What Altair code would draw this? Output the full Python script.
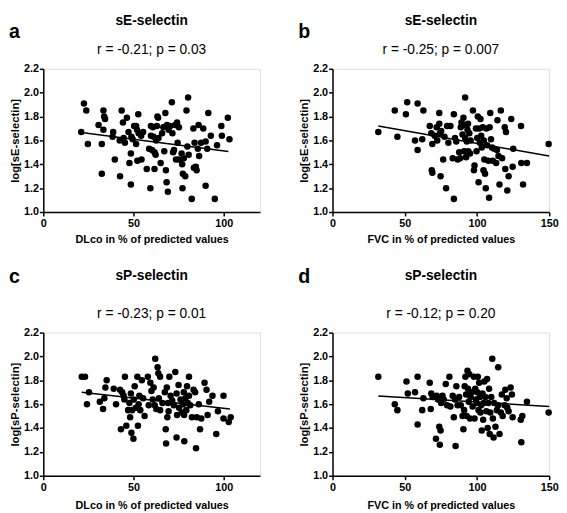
import altair as alt
import pandas as pd

FONT = "Liberation Sans"

# ---------------- data ----------------
a_x = [21, 22.5, 23.8, 24.7, 30.6, 32.4, 32.4, 33.3, 33.7, 34.2, 33.3, 38.7, 38.4, 39.6, 42.3, 42.5,
       43.4, 44.1, 44.5, 45.2, 46.3, 47.2, 47.7, 48.5, 48.5, 48.8, 49.5, 50.3, 51.4, 51.4, 51.9, 52.1,
       52.6, 52.8, 54.2, 54.4, 55.3, 57.3, 58.6, 59.3, 59.6, 59.6, 60.2, 60.7, 61.1, 61.6, 62.2, 61.6,
       62.5, 62.9, 63.2, 63.6, 63.8, 65.0, 65.8, 66.5, 67.0, 67.6, 67.9, 68.3, 68.5, 69.0, 69.4, 70.3,
       71.2, 71.5, 71.9, 72.4, 73.0, 73.5, 74.1, 74.4, 75.1, 75.1, 76.6, 76.9, 77.1, 77.3, 77.8, 78.6,
       79.3, 79.8, 80.2, 80.5, 82.2, 83.1, 83.4, 83.8, 84.5, 84.9, 85.6, 86.0, 86.3, 87.4, 88.6, 89.9,
       89.9, 90.8, 91.4, 92.8, 95.0, 96.2, 98.6, 98.9, 102.2, 103.1]
a_y = [1.67, 1.91, 1.85, 1.57, 1.73, 1.57, 1.32, 1.85, 1.80, 1.78, 1.69, 1.67, 1.63, 1.44, 1.60, 1.30,
       1.85, 1.75, 1.62, 1.58, 1.79, 1.67, 1.41, 1.49, 1.23, 1.63, 1.61, 1.72, 1.72, 1.57, 1.69, 1.43,
       1.82, 1.66, 1.64, 1.44, 1.67, 1.36, 1.53, 1.20, 1.72, 1.64, 1.52, 1.71, 1.63, 1.50, 1.48, 1.36,
       1.60, 1.72, 1.80, 1.79, 1.62, 1.41, 1.66, 1.71, 1.51, 1.83, 1.35, 1.25, 1.73, 1.17, 1.69, 1.72,
       1.92, 1.66, 1.50, 1.52, 1.73, 1.44, 1.75, 1.58, 1.71, 1.44, 1.49, 1.40, 1.20, 1.32, 1.45, 1.30,
       1.85, 1.55, 1.96, 1.48, 1.11, 1.70, 1.37, 1.58, 1.38, 1.35, 1.53, 1.73, 1.47, 1.58, 1.70, 1.59,
       1.22, 1.53, 1.83, 1.64, 1.11, 1.56, 1.72, 1.64, 1.79, 1.61]

b_x = [31.7, 43.1, 44.9, 50.8, 51.7, 57.1, 58.9, 58.9, 62.1, 62.9, 67.3, 68.4, 68.7, 69.1, 69.1, 70.7,
       72.1, 72.5, 73.9, 73.9, 74.3, 74.8, 75.2, 76.6, 77.5, 78.6, 79.3, 80.2, 81.6, 83.2, 84.0, 84.0,
       84.8, 85.7, 86.6, 87.7, 88.4, 88.8, 89.3, 90.0, 90.6, 91.1, 91.8, 91.8, 92.2, 92.5, 92.9, 93.4,
       93.8, 94.0, 94.7, 95.2, 95.6, 97.2, 97.9, 98.3, 99.3, 99.7, 100.2, 100.6, 101.1, 101.5, 102.0,
       102.4, 102.9, 103.3, 104.0, 104.5, 104.7, 105.1, 105.6, 106.1, 106.5, 107.0, 107.9, 108.4, 108.8,
       109.2, 109.7, 110.4, 111.0, 111.9, 113.3, 113.8, 114.2, 114.9, 115.6, 116.5, 117.4, 119.2, 119.6,
       120.1, 121.0, 121.9, 123.7, 124.7, 125.1, 130.5, 130.7, 131.9, 134.6, 149.6]
b_y = [1.67, 1.85, 1.63, 1.82, 1.92, 1.60, 1.91, 1.52, 1.61, 1.85, 1.72, 1.66, 1.35, 1.33, 1.57, 1.64,
       1.71, 1.60, 1.83, 1.74, 1.66, 1.30, 1.68, 1.44, 1.63, 1.20, 1.72, 1.58, 1.72, 1.45, 1.82, 1.11,
       1.62, 1.59, 1.44, 1.50, 1.45, 1.71, 1.75, 1.65, 1.79, 1.51, 1.96, 1.62, 1.73, 1.46, 1.59, 1.69,
       1.74, 1.51, 1.66, 1.49, 1.60, 1.85, 1.35, 1.39, 1.70, 1.51, 1.62, 1.80, 1.25, 1.70, 1.58,
       1.78, 1.64, 1.54, 1.71, 1.35, 1.60, 1.44, 1.32, 1.20, 1.70, 1.56, 1.43, 1.12, 1.71,
       1.83, 1.61, 1.54, 1.43, 1.53, 1.41, 1.52, 1.77, 1.47, 1.23, 1.85, 1.45, 1.71, 1.36,
       1.67, 1.18, 1.30, 1.78, 1.38, 1.53, 1.72, 1.41, 1.23, 1.41, 1.57]

c_x = [21.3, 23.1, 24.2, 25.3, 31.3, 33.1, 33.8, 34.4, 35.1, 40.3, 39.0, 42.5, 43.0, 43.7, 44.5, 44.9,
       45.2, 46.0, 47.0, 47.7, 48.1, 48.5, 48.8, 49.2, 49.9, 50.1, 50.6, 51.3, 52.1, 52.4, 52.8, 53.2,
       53.7, 54.6, 55.3, 56.1, 57.9, 58.4, 59.3, 59.9, 60.6, 61.1, 61.7, 62.0, 62.6, 63.3, 63.7, 64.0,
       64.7, 64.7, 66.0, 67.3, 67.8, 68.0, 68.4, 68.7, 69.1, 69.4, 69.8, 70.5, 71.4, 72.3, 73.1, 73.8,
       73.8, 74.1, 74.9, 75.2, 76.0, 76.7, 77.4, 77.8, 78.0, 78.1, 78.7, 79.2, 79.6, 80.0, 80.7, 80.7,
       81.4, 82.3, 83.2, 84.1, 84.6, 85.0, 86.1, 86.8, 87.5, 89.3, 90.4, 91.0, 91.9, 93.7, 95.8, 96.7,
       99.8, 99.8, 102.7, 103.8]
c_y = [1.83, 1.83, 1.60, 1.70, 1.62, 1.56, 1.65, 1.74, 1.80, 1.60, 1.73, 1.72, 1.39, 1.70, 1.67, 1.64,
       1.83, 1.42, 1.55, 1.61, 1.49, 1.69, 1.36, 1.55, 1.31, 1.64, 1.75, 1.57, 1.83, 1.42, 1.60, 1.67,
       1.55, 1.80, 1.65, 1.50, 1.83, 1.59, 1.78, 1.71, 1.64, 1.74, 1.59, 1.98, 1.56, 1.91, 1.86, 1.65,
       1.83, 1.55, 1.61, 1.70, 1.39, 1.27, 1.74, 1.49, 1.61, 1.54, 1.83, 1.67, 1.63, 1.59, 1.87, 1.69,
       1.32, 1.51, 1.76, 1.57, 1.64, 1.53, 1.60, 1.70, 1.51, 1.29, 1.65, 1.55, 1.75, 1.61, 1.83, 1.67,
       1.59, 1.49, 1.72, 1.70, 1.23, 1.49, 1.60, 1.39, 1.48, 1.78, 1.72, 1.51, 1.62, 1.67, 1.35, 1.54,
       1.67, 1.48, 1.45, 1.49]

d_x = [31.7, 43.1, 44.9, 51.2, 52.1, 57.1, 58.9, 58.9, 62.1, 62.9, 67.3, 68.0, 68.4, 69.3, 71.6, 72.1,
       73.0, 73.9, 74.3, 74.8, 75.2, 76.1, 77.0, 78.4, 79.3, 80.9, 81.6, 83.2, 84.0, 84.8, 85.2, 85.7,
       86.6, 87.7, 88.8, 90.0, 90.6, 91.1, 91.5, 92.0, 92.5, 92.9, 93.4, 93.8, 94.3, 94.7, 95.2, 95.6,
       96.3, 97.0, 97.9, 98.3, 98.8, 99.3, 99.7, 100.2, 100.6, 101.1, 101.5, 102.0, 102.4, 102.9, 103.3,
       103.8, 104.3, 104.7, 105.1, 105.8, 106.5, 107.0, 107.4, 107.9, 108.4, 108.8, 109.2, 109.9, 110.6,
       111.0, 111.5, 111.9, 112.8, 113.8, 114.7, 114.7, 115.6, 116.5, 117.2, 117.8, 119.2, 119.6, 120.6,
       121.0, 121.9, 123.3, 124.2, 124.7, 130.3, 130.7, 131.4, 134.6, 149.6]
d_y = [1.83, 1.60, 1.55, 1.79, 1.69, 1.70, 1.83, 1.43, 1.55, 1.65, 1.78, 1.56, 1.69, 1.66, 1.31, 1.67,
       1.64, 1.41, 1.26, 1.38, 1.61, 1.67, 1.64, 1.77, 1.59, 1.83, 1.58, 1.67, 1.49, 1.64, 1.25, 1.75,
       1.59, 1.66, 1.59, 1.50, 1.39, 1.55, 1.75, 1.83, 1.68, 1.50, 1.88, 1.73, 1.62, 1.85, 1.48, 1.66,
       1.70, 1.58, 1.83, 1.48, 1.73, 1.64, 1.61, 1.70, 1.83, 1.55, 1.78, 1.66, 1.53, 1.59, 1.38,
       1.69, 1.47, 1.61, 1.79, 1.66, 1.54, 1.81, 1.40, 1.61, 1.73, 1.35, 1.53, 1.66, 1.98,
       1.48, 1.32, 1.61, 1.41, 1.55, 1.91, 1.59, 1.35, 1.53, 1.68, 1.50, 1.59, 1.72, 1.65,
       1.57, 1.54, 1.74, 1.68, 1.49, 1.47, 1.28, 1.50, 1.62, 1.53]

# regression lines (end points)
a_fit_x, a_fit_y = [21, 102.5], [1.667, 1.507]
b_fit_x, b_fit_y = [31.7, 150], [1.721, 1.469]
c_fit_x, c_fit_y = [21.3, 103.4], [1.700, 1.559]
d_fit_x, d_fit_y = [31.7, 150], [1.668, 1.581]

y_ticks = [1.0, 1.2, 1.4, 1.6, 1.8, 2.0, 2.2]
x_ticks_dlco = [0, 50, 100]
x_ticks_fvc = [0, 50, 100, 150]

letters = ["a", "b", "c", "d"]
titles = ["sE-selectin", "sE-selectin", "sP-selectin", "sP-selectin"]
subtitles = ["r = -0.21; p = 0.03", "r = -0.25; p = 0.007", "r = -0.23; p = 0.01", "r = -0.12; p = 0.20"]
x_titles = ["DLco in % of predicted values", "FVC in % of predicted values",
            "DLco in % of predicted values", "FVC in % of predicted values"]
y_titles = ["log[sE-selectin]", "log[sE-selectin]", "log[sP-selectin]", "log[sP-selectin]"]

W = 221


def panel(xs, ys, fx, fy, xmax, xticks, i, H, t_y, l_y, s_y, xtp):
    df = pd.DataFrame({"x": xs, "y": ys})
    fit = pd.DataFrame({"x": fx, "y": fy})
    xsc = alt.Scale(domain=[0, xmax], nice=False, zero=False)
    ysc = alt.Scale(domain=[1.0, 2.2], nice=False, zero=False)
    common = dict(domainColor="black", domainWidth=1.5, tickColor="black", tickWidth=1.5, tickSize=4,
                  labelFont=FONT, labelFontSize=11, labelFontWeight="bold", labelColor="black",
                  titleFont=FONT, titleFontWeight="bold", titleColor="black", grid=False,
                  labelFlush=False)
    xaxis = alt.Axis(values=xticks, title=x_titles[i], titleFontSize=11, labelPadding=2,
                     titlePadding=xtp, format="d", **common)
    yaxis = alt.Axis(values=y_ticks, title=y_titles[i], titleFontSize=11.5, labelPadding=1,
                     titlePadding=3, format=".1f", **common)
    pts = alt.Chart(df).mark_circle(size=44, color="black", opacity=1).encode(
        x=alt.X("x:Q", scale=xsc, axis=xaxis), y=alt.Y("y:Q", scale=ysc, axis=yaxis))
    line = alt.Chart(fit).mark_line(color="black", strokeWidth=1.5).encode(
        x=alt.X("x:Q", scale=xsc, axis=xaxis), y=alt.Y("y:Q", scale=ysc, axis=yaxis))

    def txt(s, x, y, size, weight, align):
        return alt.Chart(pd.DataFrame({"t": [s]})).mark_text(
            align=align, baseline="alphabetic", font=FONT, fontSize=size, fontWeight=weight,
            color="black").encode(x=alt.value(x), y=alt.value(y), text="t:N")

    return alt.layer(
        pts, line,
        txt(titles[i], W / 2, t_y, 14, "bold", "center"),
        txt(subtitles[i], W / 2, s_y, 14, "normal", "center"),
        txt(letters[i], -35, l_y, 20, "bold", "left"),
    ).properties(width=W, height=H)


pa = panel(a_x, a_y, a_fit_x, a_fit_y, 120, x_ticks_dlco, 0, 146, -45, -31, -15, 5)
pb = panel(b_x, b_y, b_fit_x, b_fit_y, 150, x_ticks_fvc, 1, 146, -45, -31, -15, 5)
pc = panel(c_x, c_y, c_fit_x, c_fit_y, 120, x_ticks_dlco, 2, 146, -54, -51, -15, 7)
pd_ = panel(d_x, d_y, d_fit_x, d_fit_y, 150, x_ticks_fvc, 3, 146, -54, -51, -15, 7)

chart = alt.vconcat(
    alt.hconcat(pa, pb, spacing=37),
    alt.hconcat(pc, pd_, spacing=37),
    spacing=21,
).properties(padding=0).configure_view(stroke=None).configure(font=FONT)

chart.save("out.html", embed_options={"renderer": "svg", "actions": False})
